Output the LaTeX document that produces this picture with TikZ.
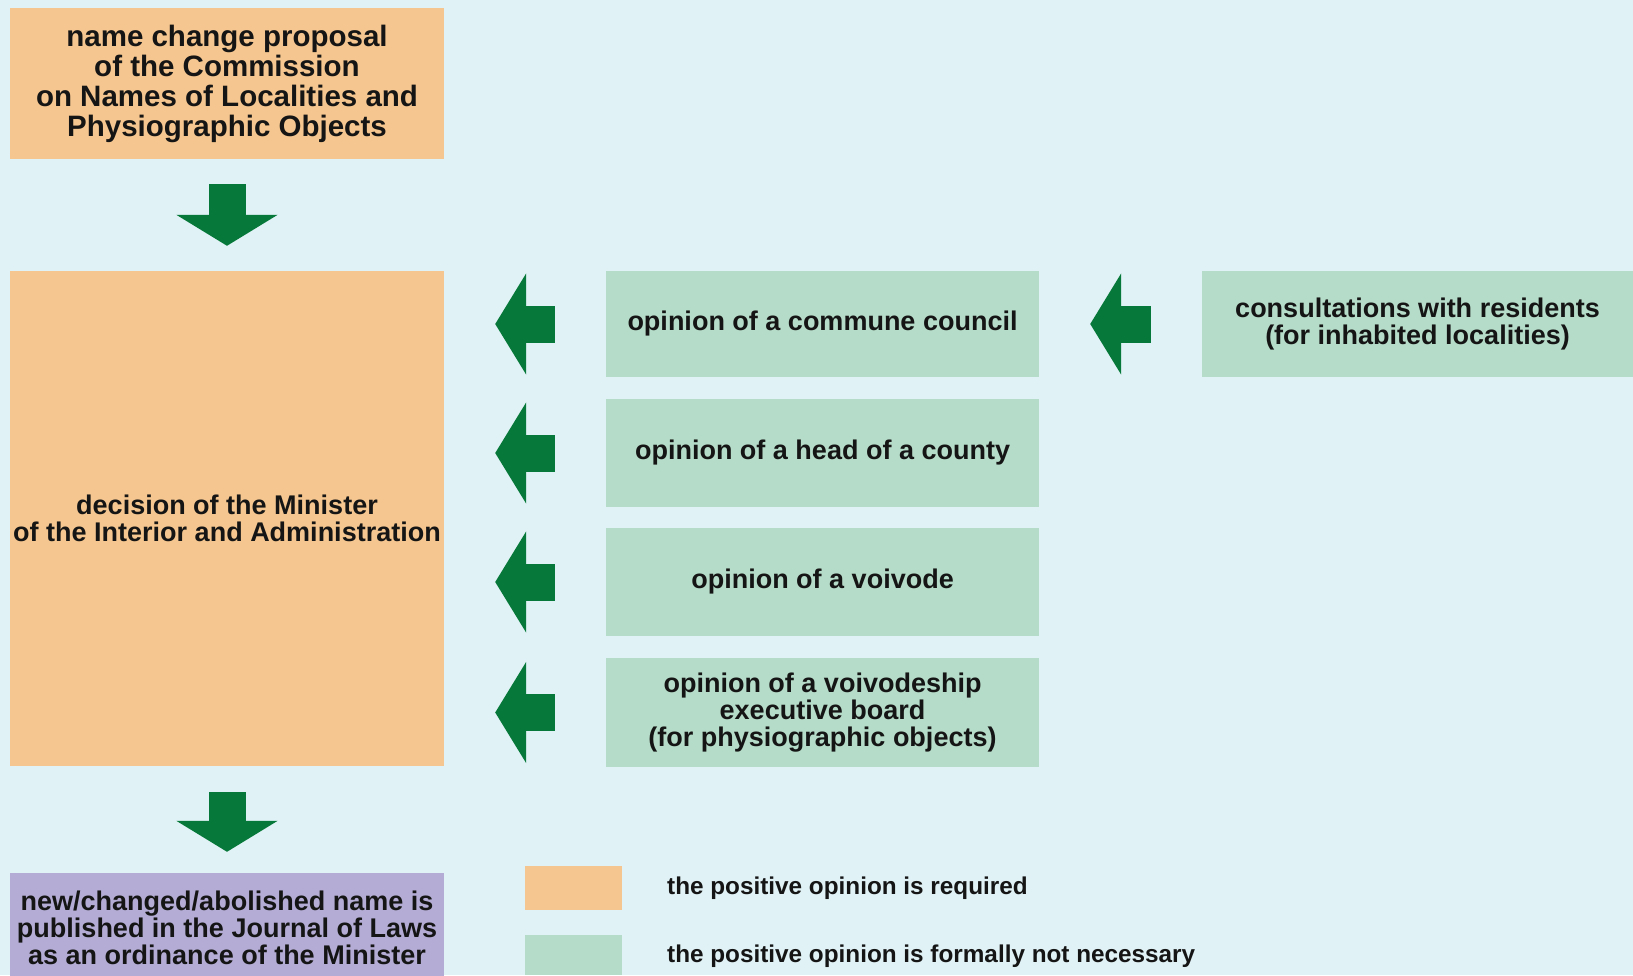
\documentclass[tikz,border=0pt]{standalone}
\usepackage{fontspec}
\setmainfont{Liberation Sans}
\usetikzlibrary{arrows.meta}

\definecolor{bgcyan}{HTML}{E0F2F5}
\definecolor{reqorange}{HTML}{F5C68F}
\definecolor{optgreen}{HTML}{B5DCC8}
\definecolor{pubpurple}{HTML}{B4ACD4}
\definecolor{arrowgreen}{HTML}{067839}
\definecolor{inkblack}{HTML}{151515}

\begin{document}
\begin{tikzpicture}
      [x=1pt,y=-1pt,
       box/.style={rectangle,inner sep=0pt,align=center,text=inkblack,
         font=\bfseries\fontsize{27}{27}\selectfont},
       required/.style={box,fill=reqorange,minimum width=434pt},
       optional/.style={box,fill=optgreen,minimum width=433pt},
       fat/.style={draw=arrowgreen,line width=37pt,
         -{Triangle[width=100pt,length=31pt]}},
       keytext/.style={anchor=west,inner sep=0pt,text=inkblack,
         font=\bfseries\fontsize{24.3}{27}\selectfont}]
      \fill [bgcyan] (0,0) rectangle (1633,975);
      \useasboundingbox (0,0) rectangle (1633,975);

      \node [required,minimum height=151pt,font=\bfseries\fontsize{29.5}{30}\selectfont] (proposal) at (227,83.5)
        {name change proposal\\of the Commission\\on Names of Localities and\\Physiographic Objects};
      \node [required,minimum height=495pt] (decision) at (227,518.5)
        {decision of the Minister\\of the Interior and Administration};
      \node [box,fill=pubpurple,minimum width=434pt,minimum height=110pt,text depth=0pt] (published) at (227,928)
        {new/changed/abolished name is\\published in the Journal of Laws\\as an ordinance of the Minister};

      \node [optional,minimum height=106pt] (commune) at (822.5,324) {opinion of a commune council};
      \node [optional,minimum height=108pt] (county) at (822.5,453) {opinion of a head of a county};
      \node [optional,minimum height=108pt] (voivode) at (822.5,582) {opinion of a voivode};
      \node [optional,minimum height=109pt] (board) at (822.5,712.5)
        {opinion of a voivodeship\\executive board\\(for physiographic objects)};
      \node [optional,minimum width=431pt,minimum height=106pt] (consult) at (1417.5,324)
        {consultations with residents\\(for inhabited localities)};

      \draw [fat,shorten <=25pt,shorten >=25pt] (proposal.south) -- (decision.north);
      \draw [fat,shorten <=26pt,shorten >=21pt] (decision.south) -- (published.north);
      \draw [fat,shorten <=51pt,shorten >=51pt] (commune.west) -- (commune.west -| decision.east);
      \draw [fat,shorten <=51pt,shorten >=51pt] (county.west) -- (county.west -| decision.east);
      \draw [fat,shorten <=51pt,shorten >=51pt] (voivode.west) -- (voivode.west -| decision.east);
      \draw [fat,shorten <=51pt,shorten >=51pt] (board.west) -- (board.west -| decision.east);
      \draw [fat,shorten <=51pt,shorten >=51pt] (consult.west) -- (commune.east);

      % legend
      \node [rectangle,fill=reqorange,minimum width=97pt,minimum height=44pt,inner sep=0pt] (keyreq) at (573.5,888) {};
      \node [rectangle,fill=optgreen,minimum width=97pt,minimum height=40pt,inner sep=0pt] (keyopt) at (573.5,955) {};
      \node [keytext] (reqtext) at (667,888) {the positive opinion is required};
      \node [keytext] (opttext) at (667,956) {the positive opinion is formally not necessary};
    \end{tikzpicture}
\end{document}
